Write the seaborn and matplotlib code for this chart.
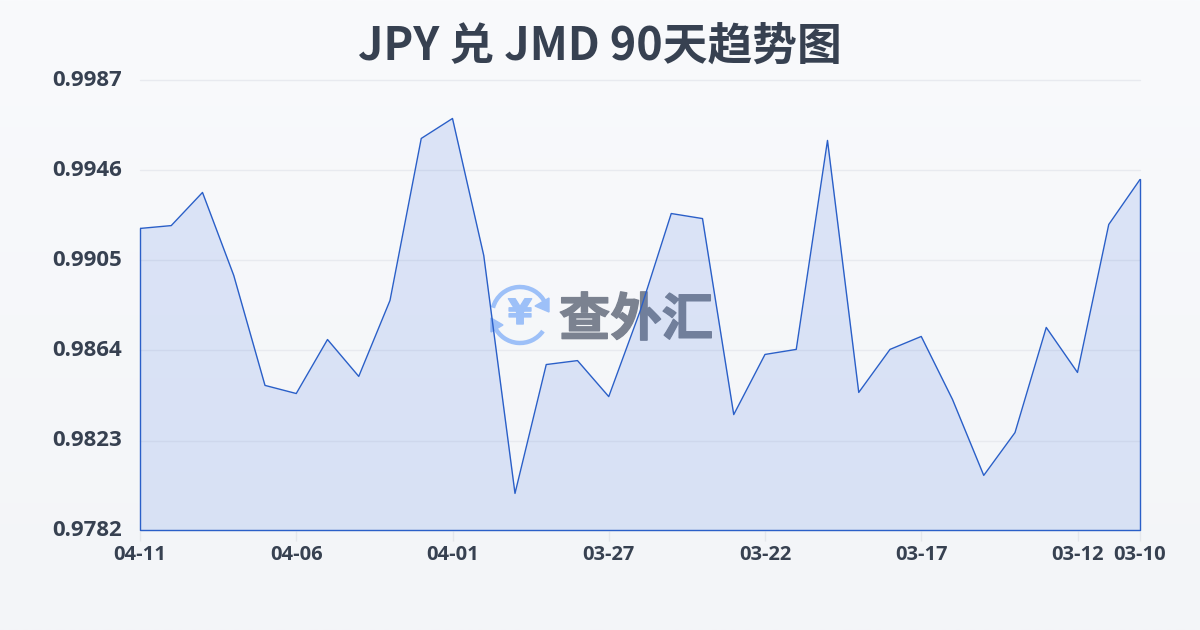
import numpy as np
import pandas as pd
import matplotlib
matplotlib.use("Agg")
import matplotlib.pyplot as plt
import matplotlib.patheffects as pe
from matplotlib.patches import Arc, Polygon
import seaborn as sns

title = "JPY 兑 JMD 90天趋势图"
watermark = "查外汇"
positions = list(range(33))
rates = [0.99196, 0.99209, 0.99360, 0.98982, 0.98481, 0.98444, 0.98690, 0.98522,
         0.98868, 0.99606, 0.99697, 0.99073, 0.97989, 0.98576, 0.98594, 0.98430,
         0.98818, 0.99264, 0.99241, 0.98348, 0.98622, 0.98645, 0.99597, 0.98449,
         0.98645, 0.98704, 0.98417, 0.98071, 0.98266, 0.98745, 0.98540, 0.99214,
         0.99419]
x_ticks = [0, 5, 10, 15, 20, 25, 30, 32]
x_labels = ["04-11", "04-06", "04-01", "03-27", "03-22", "03-17", "03-12", "03-10"]
y_ticks = [0.9782, 0.9823, 0.9864, 0.9905, 0.9946, 0.9987]

sns.set_theme(style="white")
plt.rcParams["font.family"] = ["Noto Sans CJK SC", "DejaVu Sans"]

W, H = 1200, 630
fig = plt.figure(figsize=(W / 100, H / 100), dpi=100)

bg = fig.add_axes([0, 0, 1, 1], zorder=0)
bg.imshow(np.linspace(0, 1, 256)[:, None], aspect="auto", extent=[0, 1, 0, 1],
          cmap=matplotlib.colors.LinearSegmentedColormap.from_list("bg", ["#f9fafc", "#f3f5f8"]))
bg.axis("off")

ax = fig.add_axes([140 / W, 1 - 530.5 / H, 1000 / W, 450 / H], zorder=2)
ax.patch.set_alpha(0)
df = pd.DataFrame({"pos": positions, "rate": rates})

ax.grid(axis="y", color="#e8eaef", lw=1, clip_on=False)
ax.set_axisbelow(True)

# watermark in pixel coordinates of the figure
ov = fig.add_axes([0, 0, 1, 1], zorder=1)
ov.set_xlim(0, W); ov.set_ylim(H, 0); ov.axis("off"); ov.patch.set_alpha(0)
icon = "#9dc0f8"
cx, cy = 520, 315
ov.add_patch(Arc((cx, cy), 56, 56, theta1=195, theta2=335, color=icon, lw=3.2, zorder=3))
ov.add_patch(Arc((cx, cy), 56, 56, theta1=35, theta2=155, color=icon, lw=3.2, zorder=3))
ov.add_patch(Polygon([[549, 298], [549, 312], [535, 306]], color=icon, zorder=3))
ov.add_patch(Polygon([[491, 332], [491, 318], [503, 325]], color=icon, zorder=3))
ov.text(cx, cy - 1, "¥", color=icon, fontsize=25, fontweight="bold",
        ha="center", va="center", family=["DejaVu Sans"],
        path_effects=[pe.withStroke(linewidth=1, foreground=icon)])
ov.text(636, 320, watermark, color="#7b8290", fontsize=37, fontweight="bold",
        ha="center", va="center", family=["Noto Sans CJK SC"],
        path_effects=[pe.withStroke(linewidth=1.0, foreground="#7b8290")])

ax.fill_between(df["pos"], df["rate"], y_ticks[0], facecolor="#3b6fe0", alpha=0.15, lw=0, zorder=2)
sns.lineplot(data=df, x="pos", y="rate", ax=ax, color="#2a5fc8", lw=1, zorder=3,
             errorbar=None, legend=False)
ax.plot([0, 0, 32, 32], [rates[0], y_ticks[0], y_ticks[0], rates[-1]], color="#2a5fc8", lw=1,
        zorder=3, clip_on=False)

ax.set_xlim(0, 32)
ax.set_ylim(y_ticks[0], y_ticks[-1])
ax.set_xlabel(""); ax.set_ylabel("")
ax.set_xticks(x_ticks)
ax.set_xticklabels(x_labels)
ax.set_yticks(y_ticks)
ax.set_yticklabels([f"{v:.4f}" for v in y_ticks])
ax.tick_params(axis="x", length=7, width=1, color="#e4e7ec", pad=3.5, labelcolor="#374151", bottom=True)
ax.tick_params(axis="y", length=0, pad=13, labelcolor="#374151")
for lab in ax.get_xticklabels():
    lab.set_fontsize(14.5); lab.set_fontweight("bold"); lab.set_family(["Open Sans", "DejaVu Sans"])
for lab in ax.get_yticklabels():
    lab.set_fontsize(16); lab.set_fontweight("bold"); lab.set_family(["Open Sans", "DejaVu Sans"])
    lab.set_verticalalignment("center")
for s in ax.spines.values():
    s.set_visible(False)

fig.text(0.5, 1 - 47 / H, title, ha="center", va="center", fontsize=32.2, fontweight="bold",
         color="#374151", zorder=5)

fig.savefig("out.png", dpi=100)
